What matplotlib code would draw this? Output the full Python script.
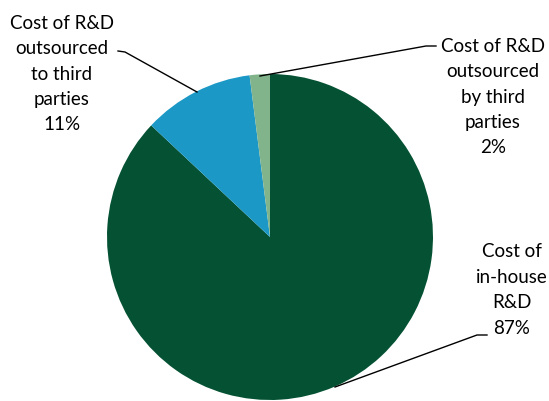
import matplotlib
matplotlib.use("Agg")
import matplotlib.pyplot as plt

categories = ["Cost of\nin-house\nR&D", "Cost of R&D\noutsourced\nto third\nparties", "Cost of R&D\noutsourced\nby third\nparties"]
values = [87, 11, 2]
colors = ["#045233", "#1B98C6", "#82B48C"]

W, H = 549, 402
fig = plt.figure(figsize=(W / 100, H / 100), dpi=100)
ax = fig.add_axes([0, 0, 1, 1])

cx, cy, r = 270, H - 238, 163
ax.pie(values, colors=colors, startangle=90, counterclock=False,
       center=(cx, cy), radius=r, frame=True,
       wedgeprops=dict(linewidth=0))
ax.set_xlim(0, W)
ax.set_ylim(0, H)
ax.set_aspect("equal")
ax.axis("off")

font = dict(family=["Lato", "DejaVu Sans"], fontsize=13.5, ha="center", va="center",
            linespacing=1.6)

labels = [f"{c}\n{v}%" for c, v in zip(categories, values)]
# label centers (pixel coords, y from top)
pos = [(62, 74), (493, 97), (512, 290)]
pos = [(512, 290), (62, 74), (493, 97)]
for lab, (x, y) in zip(labels, pos):
    ax.text(x, H - y, lab, **font)

# leader lines
lines = [
    [(335, 388), (477, 336), (487, 336)],
    [(197, 93), (125, 53), (118, 52)],
    [(260, 77), (426, 47), (436, 47)],
]
for pts in lines:
    xs = [p[0] for p in pts]
    ys = [H - p[1] for p in pts]
    ax.plot(xs, ys, color="black", lw=1)

fig.savefig("out.png", dpi=100)
